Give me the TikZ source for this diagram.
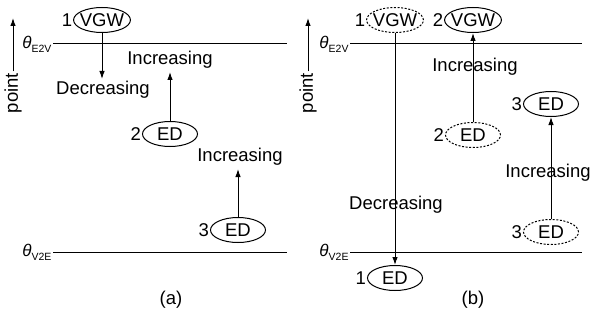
\documentclass[tikz,border=0pt]{standalone}
\usepackage{fontspec}
\setmainfont{Liberation Sans}
\usepackage{tikz}
\usetikzlibrary{shapes.geometric,arrows.meta}

\begin{document}
\begin{tikzpicture}[x=1pt,y=-1pt,line width=1pt,>={Latex[length=8pt,width=5.5pt]}]
        \tikzset{lbl/.style={font=\fontsize{18.5}{22}\selectfont, inner sep=1pt}}
        \tikzset{st/.style={ellipse, draw=black, minimum width=55pt, minimum height=25pt, inner sep=0pt, font=\fontsize{18.5}{22}\selectfont}}
        \tikzset{ghost/.style={st, dash pattern=on 2pt off 1.6pt}}
        \tikzset{num/.style={font=\fontsize{18.5}{22}\selectfont, inner sep=0.5pt}}
        \useasboundingbox (0,0) rectangle (593,326);

	%---NODES---
        % (a)
        \node[st, inner xsep=-2pt, label={[num]left:1}] (vgwA1) at (102,20) {VGW};
        \node[st, label={[num]left:2}] (edA2) at (170,134) {ED};
        \node[st, label={[num]left:3}] (edA3) at (238,230) {ED};

        % (b)
        \node[ghost, inner xsep=-2pt, label={[num]left:1}] (vgwB1) at (395,20) {VGW};
        \node[st, inner xsep=-2pt, label={[num]left:2}] (vgwB2) at (473,20) {VGW};
        \node[ghost, label={[num]left:2}] (edB2) at (473,135) {ED};
        \node[st, label={[num]left:3}] (edB3) at (551,104) {ED};
        \node[ghost, label={[num]left:3}] (edB3g) at (551,232) {ED};
        \node[st, label={[num]left:1}] (edB1) at (395,278) {ED};

        \coordinate (eA1) at (53,44);
        \coordinate (eA2) at (287,44);
        \coordinate (vA1) at (53,252);
        \coordinate (vA2) at (287,252);
        \coordinate (eB1) at (350,44);
        \coordinate (eB2) at (582,44);
        \coordinate (vB1) at (350,252);
        \coordinate (vB2) at (582,252);

        \coordinate (decA) at (102,79);
        \coordinate (incA2) at (170,72);
        \coordinate (incA3) at (238,169);

        \node[lbl, rotate=90] (ptA) at (13,93) {point};
        \node[lbl, rotate=90] (ptB) at (308,93) {point};
        \coordinate (ptAtop) at (13,18);
        \coordinate (ptBtop) at (308,18);

	%---EDGES---
        \draw[-] (eA1) -- (eA2);
        \draw[-] (vA1) -- (vA2);
        \draw[-] (eB1) -- (eB2);
        \draw[-] (vB1) -- (vB2);

        \draw[->] (ptA.east) -- (ptAtop);
        \draw[->] (ptB.east) -- (ptBtop);

        \draw[->] (vgwA1) -- (decA);
        \draw[->] (edA2) -- (incA2);
        \draw[->] (edA3) -- (incA3);

        \draw[->] (vgwB1) -- (edB1);
        \draw[->] (edB2) -- (vgwB2);
        \draw[->] (edB3g) -- (edB3);

	%---LABELS---
        \node[lbl, anchor=base east] (thEA) at (eA1) [yshift=-4.5pt] {\fontsize{17}{20}\selectfont\itshape θ\raisebox{-4pt}{\fontsize{10.5}{12}\selectfont\upshape E2V}};
        \node[lbl, anchor=base east] (thVA) at (vA1) [yshift=-4.5pt] {\fontsize{17}{20}\selectfont\itshape θ\raisebox{-4pt}{\fontsize{10.5}{12}\selectfont\upshape V2E}};
        \node[lbl, anchor=base east] (thEB) at (eB1) [yshift=-4.5pt] {\fontsize{17}{20}\selectfont\itshape θ\raisebox{-4pt}{\fontsize{10.5}{12}\selectfont\upshape E2V}};
        \node[lbl, anchor=base east] (thVB) at (vB1) [yshift=-4.5pt] {\fontsize{17}{20}\selectfont\itshape θ\raisebox{-4pt}{\fontsize{10.5}{12}\selectfont\upshape V2E}};

        \node[lbl] (tdecA) at (103,90) {Decreasing};
        \node[lbl] (tincA2) at (170,60) {Increasing};
        \node[lbl] (tincA3) at (240,157) {Increasing};
        \node[lbl] (tdecB) at (396,205) {Decreasing};
        \node[lbl] (tincB2) at (475,67) {Increasing};
        \node[lbl] (tincB3) at (548,173) {Increasing};

        \node[lbl] (capA) at (171,300) {(a)};
        \node[lbl] (capB) at (473,300) {(b)};

    \end{tikzpicture}
\end{document}
